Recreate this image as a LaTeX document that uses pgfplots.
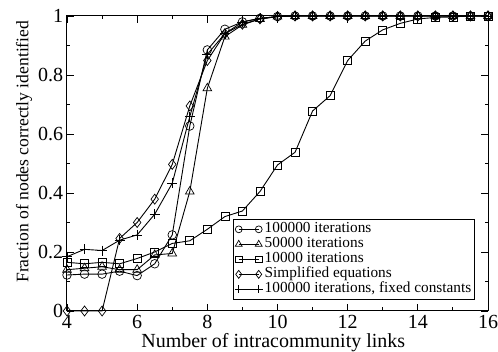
\documentclass[border=0pt]{standalone}
\usepackage{fontspec}
\setmainfont{Liberation Serif}
\usepackage{pgfplots}
\pgfplotsset{compat=1.18}
\begin{document}
\begin{tikzpicture}
\begin{axis}[
  at={(0pt,0pt)}, anchor=south west,
  scale only axis, width=421pt, height=295pt,
  xmin=4, xmax=16, ymin=0, ymax=1,
  clip=false,
  xtick={4,6,...,16}, minor xtick={5,7,...,15},
  ytick={0,0.2,...,1}, minor ytick={0.1,0.3,0.5,0.7,0.9},
  yticklabels={0,0.2,0.4,0.6,0.8,1},
  tick align=inside, major tick length=7pt, minor tick length=3.5pt,
  tick style={black, line width=0.9pt},
  axis line style={line width=1pt},
  /pgf/number format/assume math mode=true,
  tick label style={font=\fontsize{20}{20}\selectfont},
  xticklabel style={anchor=base, yshift=-17.7pt, text depth=0pt},
  yticklabel style={anchor=east, inner sep=0pt, xshift=-3.6pt},
  xlabel={Number of intracommunity links},
  xlabel style={font=\fontsize{20}{20}\selectfont, at={(axis description cs:0.49,0)}, anchor=base, yshift=-36.5pt},
  legend cell align=left,
  legend image code/.code={\draw[#1, every mark/.append style={scale=0.8}] plot coordinates {(0pt,0pt) (20pt,0pt)};},
  legend style={at={(0.9684,0.038)}, anchor=south east, font=\fontsize{15.3}{15.3}\selectfont, draw=black, line width=0.9pt, inner xsep=1pt, inner ysep=2.5pt, nodes={inner ysep=0pt, inner xsep=2pt, text height=11pt, text depth=4pt}, row sep=0pt},
  every axis plot/.append style={line width=0.9pt, black, mark options={fill=white, solid, line width=0.7pt}},
]
\addplot[mark=o, mark size=4.3pt] coordinates {(4,0.122)(4.5,0.125)(5,0.125)(5.5,0.135)(6,0.12)(6.5,0.16)(7,0.258)(7.5,0.627)(8,0.885)(8.5,0.955)(9,0.98)(9.5,0.992)(10,0.998)(10.5,1)(11,1)(11.5,1)(12,1)(12.5,1)(13,1)(13.5,1)(14,1)(14.5,1)(15,1)(15.5,1)(16,1)};
\addlegendentry{100000 iterations}
\addplot[mark=triangle, mark size=5pt] coordinates {(4,0.14)(4.5,0.145)(5,0.15)(5.5,0.14)(6,0.14)(6.5,0.19)(7,0.195)(7.5,0.405)(8,0.755)(8.5,0.93)(9,0.97)(9.5,0.99)(10,0.998)(10.5,1)(11,1)(11.5,1)(12,1)(12.5,1)(13,1)(13.5,1)(14,1)(14.5,1)(15,1)(15.5,1)(16,1)};
\addlegendentry{50000 iterations}
\addplot[mark=square, mark size=4pt] coordinates {(4,0.165)(4.5,0.16)(5,0.165)(5.5,0.16)(6,0.178)(6.5,0.2)(7,0.229)(7.5,0.238)(8,0.277)(8.5,0.32)(9,0.339)(9.5,0.405)(10,0.495)(10.5,0.538)(11,0.678)(11.5,0.73)(12,0.849)(12.5,0.915)(13,0.953)(13.5,0.975)(14,0.99)(14.5,0.995)(15,0.997)(15.5,1)(16,1)};
\addlegendentry{10000 iterations}
\addplot[mark=diamond, mark size=5pt] coordinates {(4,0)(4.5,0)(5,0)(5.5,0.246)(6,0.3)(6.5,0.379)(7,0.497)(7.5,0.695)(8,0.849)(8.5,0.94)(9,0.972)(9.5,0.99)(10,0.998)(10.5,1)(11,1)(11.5,1)(12,1)(12.5,1)(13,1)(13.5,1)(14,1)(14.5,1)(15,1)(15.5,1)(16,1)};
\addlegendentry{Simplified equations}
\addplot[mark=+, mark size=5pt] coordinates {(4,0.184)(4.5,0.209)(5,0.205)(5.5,0.24)(6,0.258)(6.5,0.328)(7,0.433)(7.5,0.659)(8,0.87)(8.5,0.94)(9,0.98)(9.5,0.992)(10,0.998)(10.5,1)(11,1)(11.5,1)(12,1)(12.5,1)(13,1)(13.5,1)(14,1)(14.5,1)(15,1)(15.5,1)(16,1)};
\addlegendentry{100000 iterations, fixed constants}
\node[rotate=90, anchor=base, inner sep=0pt, font=\fontsize{17.6}{17.6}\selectfont] at ([xshift=-38.5pt]axis description cs:0,0.54) {Fraction of nodes correctly identified};
\end{axis}
\pgfresetboundingbox
\path[use as bounding box] (-67pt,-41pt) rectangle (431pt,311pt);
\end{tikzpicture}
\end{document}
